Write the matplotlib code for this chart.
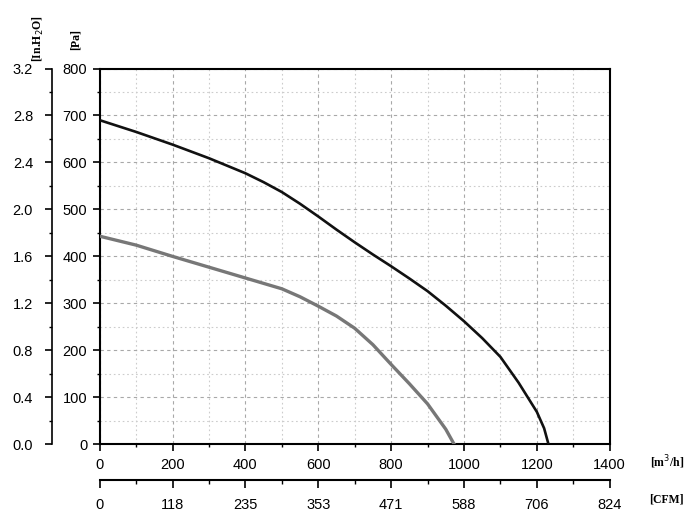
import numpy as np
import matplotlib
matplotlib.use("Agg")
import matplotlib.pyplot as plt
from matplotlib.ticker import MultipleLocator, FixedLocator

# curva superior (negra) y curva inferior (gris), caudal en m3/h y presion en Pa
q_black = [0, 100, 200, 300, 400, 450, 500, 550, 600, 650, 700, 750, 800,
           850, 900, 950, 1000, 1050, 1100, 1150, 1200, 1220, 1232]
p_black = [690, 665, 638, 609, 577, 558, 537, 512, 485, 457, 430, 404, 379,
           353, 326, 295, 262, 226, 186, 131, 69, 34, 0]

q_gray = [0, 100, 200, 300, 400, 500, 550, 600, 650, 700, 750, 800, 850, 900, 950, 973]
p_gray = [443, 424, 400, 377, 354, 331, 314, 294, 273, 247, 212, 170, 129, 86, 32, 0]

m3h_ticks = [0, 200, 400, 600, 800, 1000, 1200, 1400]
cfm_labels = ["0", "118", "235", "353", "471", "588", "706", "824"]
inh2o_ticks = [0.0, 0.4, 0.8, 1.2, 1.6, 2.0, 2.4, 2.8, 3.2]

plt.rcParams['font.family'] = ['Liberation Sans', 'DejaVu Sans']

fig = plt.figure(figsize=(7, 5.19), dpi=100)
ax = fig.add_axes([0.1424, 0.144, 0.7286, 0.724])

ax.plot(q_black, p_black, color='#111111', lw=1.9, zorder=3)
ax.plot(q_gray, p_gray, color='#777777', lw=2.4, zorder=3)

ax.set_xlim(0, 1400)
ax.set_ylim(0, 800)
ax.xaxis.set_major_locator(FixedLocator(m3h_ticks))
ax.xaxis.set_minor_locator(MultipleLocator(100))
ax.yaxis.set_major_locator(MultipleLocator(100))
ax.yaxis.set_minor_locator(MultipleLocator(50))
ax.grid(which='major', color='#a8a8a8', ls=(0, (3, 3)), lw=0.8)
ax.grid(which='minor', color='#cccccc', ls=(0, (1.5, 2.5)), lw=0.8)
ax.tick_params(which='major', direction='out', length=5, width=1.2, labelsize=10.5, pad=4)
ax.tick_params(which='minor', direction='out', length=2.5, width=1)
ax.tick_params(axis='x', pad=5)
for s in ax.spines.values():
    s.set_linewidth(1.5)

# eje CFM debajo
ax2 = ax.twiny()
ax2.set_xlim(0, 1400)
ax2.xaxis.set_ticks_position('bottom')
ax2.xaxis.set_label_position('bottom')
ax2.spines['bottom'].set_position(('outward', 26))
for k in ['top', 'left', 'right']:
    ax2.spines[k].set_visible(False)
ax2.spines['bottom'].set_linewidth(1.5)
ax2.xaxis.set_major_locator(FixedLocator(m3h_ticks))
ax2.set_xticklabels(cfm_labels)
ax2.xaxis.set_minor_locator(MultipleLocator(100))
ax2.tick_params(which='major', direction='out', length=6, width=1.2, labelsize=10.5, pad=7)
ax2.tick_params(which='minor', direction='out', length=3, width=1)

# eje In.H2O a la izquierda
ax3 = ax.twinx()
ax3.set_ylim(0, 3.2)
ax3.yaxis.set_ticks_position('left')
ax3.spines['left'].set_position(('outward', 34))
for k in ['top', 'bottom', 'right']:
    ax3.spines[k].set_visible(False)
ax3.spines['left'].set_linewidth(1.2)
ax3.yaxis.set_major_locator(FixedLocator(inh2o_ticks))
ax3.set_yticklabels([f"{v:.1f}" for v in inh2o_ticks])
ax3.yaxis.set_minor_locator(MultipleLocator(0.2))
ax3.tick_params(which='major', direction='out', length=5, width=1.2, labelsize=10.5, pad=9)
ax3.tick_params(which='minor', direction='out', length=2.5, width=1)

unit_font = dict(family='Liberation Serif', fontweight='bold', fontsize=8.5)
fig.text(76 / 700, 1 - 40 / 519, "[Pa]", rotation=90, ha='center', va='center', **unit_font)
fig.text(38 / 700, 1 - 38 / 519, "[In.H$_2$O]", rotation=90, ha='center', va='center', **unit_font)
fig.text(667 / 700, 1 - 462 / 519, "[m$^3$/h]", ha='center', va='center', **unit_font)
fig.text(666 / 700, 1 - 500 / 519, "[CFM]", ha='center', va='center', **unit_font)

fig.savefig("out.png", dpi=100)
